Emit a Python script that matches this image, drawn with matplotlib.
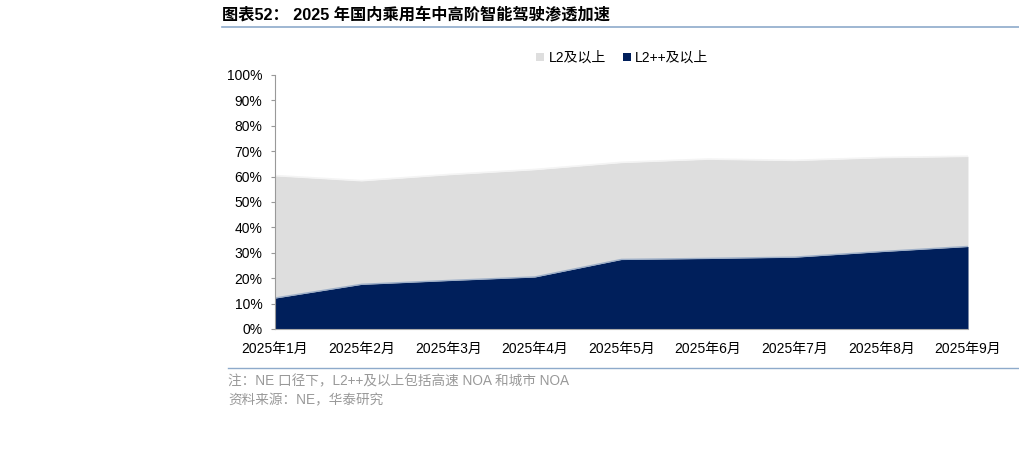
import matplotlib
matplotlib.use('Agg')
import matplotlib.pyplot as plt
from matplotlib.patches import Patch
from matplotlib.lines import Line2D
import numpy as np

plt.rcParams['font.family'] = ['Liberation Sans', 'Noto Sans CJK SC', 'DejaVu Sans']

months = ['2025年1月', '2025年2月', '2025年3月', '2025年4月', '2025年5月',
          '2025年6月', '2025年7月', '2025年8月', '2025年9月']
l2_plus = [60.4, 58.4, 60.8, 62.8, 65.6, 66.9, 66.4, 67.5, 68.0]
l2pp_plus = [12.2, 17.6, 19.1, 20.5, 27.4, 27.8, 28.3, 30.5, 32.5]

GRAY = '#dedede'
NAVY = '#001f5b'

fig = plt.figure(figsize=(10.2, 4.49), dpi=100)
ax = fig.add_axes([0.2696, 0.2673, 0.6794, 0.5657])

x = np.arange(len(months))
ax.fill_between(x, 0, l2_plus, color=GRAY, lw=0)
ax.plot(x, l2_plus, color='#f4f4f4', lw=1.2)
ax.fill_between(x, 0, l2pp_plus, color=NAVY, lw=0)
ax.plot(x, l2pp_plus, color='#9fb0c8', lw=1.0)

ax.set_xlim(0, len(months) - 1)
ax.set_ylim(0, 100)
ax.set_yticks(np.arange(0, 101, 10))
ax.set_yticklabels([f'{v}%' for v in range(0, 101, 10)], fontsize=10)
ax.set_xticks(x)
ax.set_xticklabels(months, fontsize=10)
ax.tick_params(axis='x', length=0, pad=9)
ax.tick_params(axis='y', length=3, color='#999999', pad=6)
for s in ['top', 'right']:
    ax.spines[s].set_visible(False)
ax.spines['left'].set_color('#999999')
ax.spines['bottom'].set_color('#aaaaaa')

handles = [Patch(facecolor=GRAY, edgecolor='none', label='L2及以上'),
           Patch(facecolor=NAVY, edgecolor='none', label='L2++及以上')]
fig.legend(handles=handles, loc='center', bbox_to_anchor=(0.61, 0.871), ncol=2,
           frameon=False, fontsize=10, handlelength=0.6, handleheight=0.6,
           handletextpad=0.3, columnspacing=1.2)

# title and rules
fig.text(0.2176, 0.968, '图表52： 2025 年国内乘用车中高阶智能驾驶渗透加速',
         fontsize=11.7, fontweight='bold', va='center', ha='left')
fig.add_artist(Line2D([0.2176, 1.0], [0.94, 0.94], color='#8eaacb', lw=1.2))
fig.add_artist(Line2D([0.2235, 1.0], [0.18, 0.18], color='#8eaacb', lw=1.0))

fig.text(0.2235, 0.151, '注：NE 口径下，L2++及以上包括高速 NOA 和城市 NOA',
         fontsize=9.8, color='#999999', va='center', ha='left')
fig.text(0.2235, 0.108, '资料来源：NE，华泰研究',
         fontsize=9.8, color='#999999', va='center', ha='left')

fig.savefig('out.png', dpi=100)
